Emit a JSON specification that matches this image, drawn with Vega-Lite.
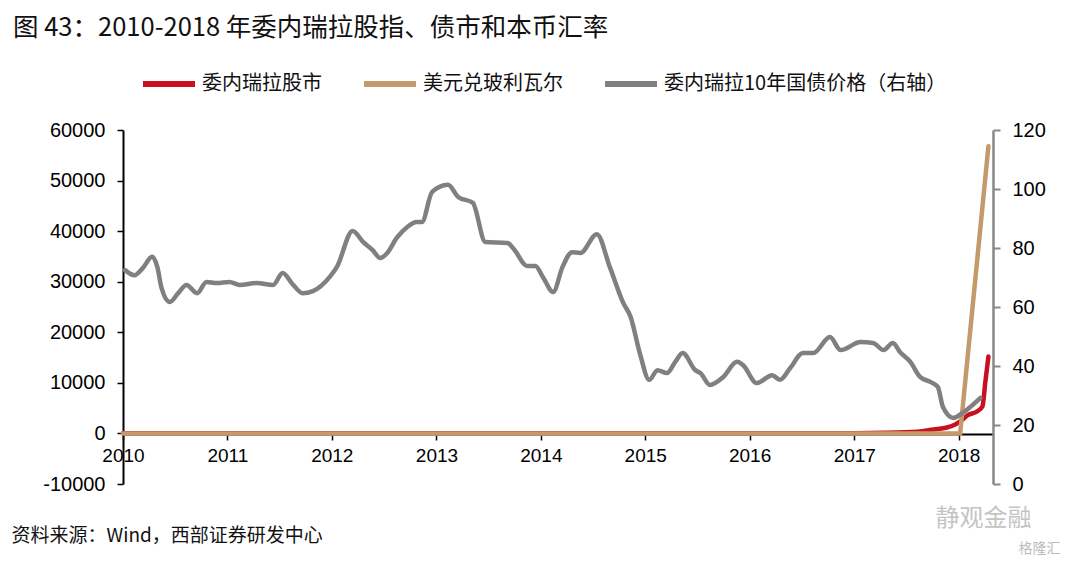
{
  "$schema": "https://vega.github.io/schema/vega-lite/v6.json",
  "autosize": {"type": "none"},
  "width": 870,
  "height": 354,
  "padding": {"left": 123, "top": 130, "right": 87, "bottom": 82},
  "background": "white",
  "title": {
    "text": "图 43：2010-2018 年委内瑞拉股指、债市和本币汇率",
    "anchor": "start",
    "frame": "group",
    "dx": -110,
    "fontSize": 25.5,
    "font": "Noto Sans CJK SC",
    "fontWeight": "normal",
    "color": "#111111",
    "offset": 14
  },
  "config": {
    "view": {"stroke": null},
    "font": "Liberation Sans",
    "axis": {"grid": false, "labelFont": "Liberation Sans", "labelColor": "#000000"}
  },
  "datasets": {
    "stock": [
      {"d": "2010-01-01", "s": "委内瑞拉股市", "v": 20},
      {"d": "2011-01-01", "s": "委内瑞拉股市", "v": 22},
      {"d": "2012-01-01", "s": "委内瑞拉股市", "v": 25},
      {"d": "2013-01-01", "s": "委内瑞拉股市", "v": 30},
      {"d": "2014-01-01", "s": "委内瑞拉股市", "v": 40},
      {"d": "2015-01-01", "s": "委内瑞拉股市", "v": 35},
      {"d": "2016-01-01", "s": "委内瑞拉股市", "v": 30},
      {"d": "2016-07-01", "s": "委内瑞拉股市", "v": 35},
      {"d": "2017-01-01", "s": "委内瑞拉股市", "v": 60},
      {"d": "2017-04-15", "s": "委内瑞拉股市", "v": 120},
      {"d": "2017-08-10", "s": "委内瑞拉股市", "v": 350},
      {"d": "2017-10-05", "s": "委内瑞拉股市", "v": 790},
      {"d": "2017-11-21", "s": "委内瑞拉股市", "v": 1180},
      {"d": "2017-12-20", "s": "委内瑞拉股市", "v": 1780},
      {"d": "2018-01-15", "s": "委内瑞拉股市", "v": 2760},
      {"d": "2018-01-31", "s": "委内瑞拉股市", "v": 3550},
      {"d": "2018-03-06", "s": "委内瑞拉股市", "v": 4340},
      {"d": "2018-03-25", "s": "委内瑞拉股市", "v": 5330},
      {"d": "2018-04-04", "s": "委内瑞拉股市", "v": 10070},
      {"d": "2018-04-15", "s": "委内瑞拉股市", "v": 15200}
    ],
    "fx": [
      {"d": "2010-01-01", "s": "美元兑玻利瓦尔", "v": 4.3},
      {"d": "2011-01-01", "s": "美元兑玻利瓦尔", "v": 4.3},
      {"d": "2013-02-10", "s": "美元兑玻利瓦尔", "v": 6.3},
      {"d": "2014-01-01", "s": "美元兑玻利瓦尔", "v": 6.3},
      {"d": "2015-01-01", "s": "美元兑玻利瓦尔", "v": 6.3},
      {"d": "2016-03-01", "s": "美元兑玻利瓦尔", "v": 10},
      {"d": "2017-01-01", "s": "美元兑玻利瓦尔", "v": 10},
      {"d": "2018-01-06", "s": "美元兑玻利瓦尔", "v": 10},
      {"d": "2018-04-15", "s": "美元兑玻利瓦尔", "v": 56800}
    ],
    "bond": [
      {"d": "2010-01-08", "s": "委内瑞拉10年国债价格（右轴）", "v": 72.5},
      {"d": "2010-02-10", "s": "委内瑞拉10年国债价格（右轴）", "v": 70.8},
      {"d": "2010-03-11", "s": "委内瑞拉10年国债价格（右轴）", "v": 73.2},
      {"d": "2010-04-13", "s": "委内瑞拉10年国债价格（右轴）", "v": 77.0},
      {"d": "2010-05-01", "s": "委内瑞拉10年国债价格（右轴）", "v": 73.6},
      {"d": "2010-05-16", "s": "委内瑞拉10年国债价格（右轴）", "v": 66.4},
      {"d": "2010-06-14", "s": "委内瑞拉10年国债价格（右轴）", "v": 61.7},
      {"d": "2010-07-13", "s": "委内瑞拉10年国债价格（右轴）", "v": 64.7},
      {"d": "2010-08-11", "s": "委内瑞拉10年国债价格（右轴）", "v": 67.5},
      {"d": "2010-09-17", "s": "委内瑞拉10年国债价格（右轴）", "v": 64.7},
      {"d": "2010-10-20", "s": "委内瑞拉10年国债价格（右轴）", "v": 68.5},
      {"d": "2010-11-25", "s": "委内瑞拉10年国债价格（右轴）", "v": 68.1},
      {"d": "2011-01-08", "s": "委内瑞拉10年国债价格（右轴）", "v": 68.5},
      {"d": "2011-02-13", "s": "委内瑞拉10年国债价格（右轴）", "v": 67.5},
      {"d": "2011-04-13", "s": "委内瑞拉10年国债价格（右轴）", "v": 68.1},
      {"d": "2011-06-10", "s": "委内瑞拉10年国债价格（右轴）", "v": 67.5},
      {"d": "2011-07-13", "s": "委内瑞拉10年国债价格（右轴）", "v": 71.5},
      {"d": "2011-08-19", "s": "委内瑞拉10年国债价格（右轴）", "v": 67.5},
      {"d": "2011-09-21", "s": "委内瑞拉10年国债价格（右轴）", "v": 64.7},
      {"d": "2011-10-27", "s": "委内瑞拉10年国债价格（右轴）", "v": 65.4},
      {"d": "2011-12-25", "s": "委内瑞拉10年国债价格（右轴）", "v": 70.2},
      {"d": "2012-01-19", "s": "委内瑞拉10年国债价格（右轴）", "v": 73.6},
      {"d": "2012-03-14", "s": "委内瑞拉10年国债价格（右轴）", "v": 85.8},
      {"d": "2012-04-20", "s": "委内瑞拉10年国债价格（右轴）", "v": 82.0},
      {"d": "2012-05-23", "s": "委内瑞拉10年国债价格（右轴）", "v": 79.3},
      {"d": "2012-06-18", "s": "委内瑞拉10年国债价格（右轴）", "v": 76.6},
      {"d": "2012-07-13", "s": "委内瑞拉10年国债价格（右轴）", "v": 78.3},
      {"d": "2012-08-15", "s": "委内瑞拉10年国债价格（右轴）", "v": 83.4},
      {"d": "2012-09-21", "s": "委内瑞拉10年国债价格（右轴）", "v": 87.1},
      {"d": "2012-10-24", "s": "委内瑞拉10年国债价格（右轴）", "v": 88.8},
      {"d": "2012-11-11", "s": "委内瑞拉10年国债价格（右轴）", "v": 88.8},
      {"d": "2012-12-17", "s": "委内瑞拉10年国债价格（右轴）", "v": 99.0},
      {"d": "2013-02-10", "s": "委内瑞拉10年国债价格（右轴）", "v": 101.4},
      {"d": "2013-03-18", "s": "委内瑞拉10年国债价格（右轴）", "v": 97.3},
      {"d": "2013-05-08", "s": "委内瑞拉10年国债价格（右轴）", "v": 95.3},
      {"d": "2013-06-21", "s": "委内瑞拉10年国债价格（右轴）", "v": 82.0},
      {"d": "2013-09-06", "s": "委内瑞拉10年国债价格（右轴）", "v": 81.7},
      {"d": "2013-10-01", "s": "委内瑞拉10年国债价格（右轴）", "v": 79.3},
      {"d": "2013-11-14", "s": "委内瑞拉10年国债价格（右轴）", "v": 73.9},
      {"d": "2013-12-13", "s": "委内瑞拉10年国债价格（右轴）", "v": 73.9},
      {"d": "2014-01-08", "s": "委内瑞拉10年国债价格（右轴）", "v": 70.2},
      {"d": "2014-02-13", "s": "委内瑞拉10年国债价格（右轴）", "v": 65.1},
      {"d": "2014-03-18", "s": "委内瑞拉10年国债价格（右轴）", "v": 73.6},
      {"d": "2014-04-20", "s": "委内瑞拉10年国债价格（右轴）", "v": 78.6},
      {"d": "2014-05-19", "s": "委内瑞拉10年国债价格（右轴）", "v": 78.3},
      {"d": "2014-07-16", "s": "委内瑞拉10年国债价格（右轴）", "v": 84.7},
      {"d": "2014-08-30", "s": "委内瑞拉10年国债价格（右轴）", "v": 73.6},
      {"d": "2014-10-16", "s": "委内瑞拉10年国债价格（右轴）", "v": 61.4},
      {"d": "2014-11-11", "s": "委内瑞拉10年国债价格（右轴）", "v": 56.6},
      {"d": "2014-12-13", "s": "委内瑞拉10年国债价格（右轴）", "v": 44.4},
      {"d": "2015-01-15", "s": "委内瑞拉10年国债价格（右轴）", "v": 35.3},
      {"d": "2015-02-13", "s": "委内瑞拉10年国债价格（右轴）", "v": 38.6},
      {"d": "2015-03-18", "s": "委内瑞拉10年国债价格（右轴）", "v": 37.6},
      {"d": "2015-04-16", "s": "委内瑞拉10年国债价格（右轴）", "v": 41.4},
      {"d": "2015-05-12", "s": "委内瑞拉10年国债价格（右轴）", "v": 44.4},
      {"d": "2015-06-25", "s": "委内瑞拉10年国债价格（右轴）", "v": 38.6},
      {"d": "2015-07-13", "s": "委内瑞拉10年国债价格（右轴）", "v": 37.6},
      {"d": "2015-08-15", "s": "委内瑞拉10年国债价格（右轴）", "v": 33.6},
      {"d": "2015-10-01", "s": "委内瑞拉10年国债价格（右轴）", "v": 36.3},
      {"d": "2015-11-18", "s": "委内瑞拉10年国债价格（右轴）", "v": 41.4},
      {"d": "2015-12-09", "s": "委内瑞拉10年国债价格（右轴）", "v": 40.3},
      {"d": "2016-01-26", "s": "委内瑞拉10年国债价格（右轴）", "v": 34.2},
      {"d": "2016-03-20", "s": "委内瑞拉10年国债价格（右轴）", "v": 36.9},
      {"d": "2016-04-16", "s": "委内瑞拉10年国债价格（右轴）", "v": 35.3},
      {"d": "2016-05-22", "s": "委内瑞拉10年国债价格（右轴）", "v": 39.3},
      {"d": "2016-07-05", "s": "委内瑞拉10年国债价格（右轴）", "v": 44.4},
      {"d": "2016-08-11", "s": "委内瑞拉10年国债价格（右轴）", "v": 44.4},
      {"d": "2016-10-08", "s": "委内瑞拉10年国债价格（右轴）", "v": 49.8},
      {"d": "2016-11-14", "s": "委内瑞拉10年国债价格（右轴）", "v": 45.4},
      {"d": "2017-01-23", "s": "委内瑞拉10年国债价格（右轴）", "v": 48.1},
      {"d": "2017-03-08", "s": "委内瑞拉10年国债价格（右轴）", "v": 47.8},
      {"d": "2017-04-13", "s": "委内瑞拉10年国债价格（右轴）", "v": 45.4},
      {"d": "2017-05-16", "s": "委内瑞拉10年国债价格（右轴）", "v": 47.8},
      {"d": "2017-06-10", "s": "委内瑞拉10年国债价格（右轴）", "v": 44.7},
      {"d": "2017-07-16", "s": "委内瑞拉10年国债价格（右轴）", "v": 41.4},
      {"d": "2017-08-19", "s": "委内瑞拉10年国债价格（右轴）", "v": 36.3},
      {"d": "2017-09-24", "s": "委内瑞拉10年国债价格（右轴）", "v": 34.6},
      {"d": "2017-10-20", "s": "委内瑞拉10年国债价格（右轴）", "v": 32.9},
      {"d": "2017-11-07", "s": "委内瑞拉10年国债价格（右轴）", "v": 26.1},
      {"d": "2017-12-13", "s": "委内瑞拉10年国债价格（右轴）", "v": 22.4},
      {"d": "2018-01-19", "s": "委内瑞拉10年国债价格（右轴）", "v": 24.4},
      {"d": "2018-03-18", "s": "委内瑞拉10年国债价格（右轴）", "v": 29.2}
    ]
  },
  "layer": [
    {
      "layer": [
        {
          "data": {"name": "stock"},
          "mark": {"type": "line", "strokeWidth": 4.5, "interpolate": "monotone", "strokeCap": "round"},
          "encoding": {
            "x": {
              "field": "d", "type": "temporal",
              "scale": {"domain": ["2010-01-01", "2018-05-01"]},
              "axis": {
                "offset": -50,
                "format": "%Y",
                "tickCount": {"interval": "year", "step": 1},
                "domainColor": "#000000", "domainWidth": 2,
                "tickColor": "#000000", "tickWidth": 1.5, "tickSize": 6,
                "labelFontSize": 19, "labelPadding": 6, "labelFlush": false,
                "title": "资料来源：Wind，西部证券研发中心",
                "titleFont": "Noto Sans CJK SC", "titleFontSize": 19, "titleFontWeight": "normal",
                "titleColor": "#111111",
                "titleAnchor": "start", "titleAlign": "left", "titleBaseline": "middle",
                "titleX": -112, "titleY": 101
              }
            },
            "y": {
              "field": "v", "type": "quantitative",
              "scale": {"domain": [-10000, 60000], "nice": false, "zero": false},
              "axis": {
                "values": [-10000, 0, 10000, 20000, 30000, 40000, 50000, 60000],
                "labelExpr": "'' + datum.value",
                "domainColor": "#000000", "domainWidth": 2,
                "tickColor": "#000000", "tickWidth": 1.5, "tickSize": 6,
                "labelFontSize": 20, "labelPadding": 12,
                "title": "格隆汇",
                "titleFont": "Noto Sans CJK SC", "titleFontSize": 14, "titleFontWeight": "normal",
                "titleColor": "#bbbbbb", "titleAngle": 0,
                "titleAlign": "left", "titleBaseline": "middle",
                "titleX": 895, "titleY": 418
              }
            },
            "color": {
              "field": "s", "type": "nominal",
              "scale": {
                "domain": ["委内瑞拉股市", "美元兑玻利瓦尔", "委内瑞拉10年国债价格（右轴）"],
                "range": ["#C8101E", "#C49A6C", "#808080"]
              },
              "legend": {
                "orient": "none", "legendX": 17, "legendY": -75,
                "direction": "horizontal", "title": null,
                "symbolType": "stroke", "symbolStrokeWidth": 6, "symbolSize": 2704,
                "labelFont": "Noto Sans CJK SC", "labelFontSize": 20, "labelColor": "#111111",
                "labelOffset": 4, "columnPadding": 30, "labelLimit": 400
              }
            }
          }
        },
        {
          "data": {"name": "fx"},
          "mark": {"type": "line", "strokeWidth": 4.5, "interpolate": "linear", "strokeCap": "round"},
          "encoding": {
            "x": {"field": "d", "type": "temporal"},
            "y": {"field": "v", "type": "quantitative"},
            "color": {"field": "s", "type": "nominal"}
          }
        }
      ]
    },
    {
      "data": {"name": "bond"},
      "mark": {"type": "line", "strokeWidth": 4.5, "interpolate": "monotone", "strokeCap": "round"},
      "encoding": {
        "x": {"field": "d", "type": "temporal"},
        "y": {
          "field": "v", "type": "quantitative",
          "scale": {"domain": [0, 120], "nice": false},
          "axis": {
            "orient": "right",
            "values": [0, 20, 40, 60, 80, 100, 120],
            "domainColor": "#888888", "domainWidth": 2.5,
            "tickColor": "#888888", "tickWidth": 2, "tickSize": 7,
            "labelFontSize": 20, "labelPadding": 12,
            "title": "静观金融",
            "titleFont": "Noto Sans CJK SC", "titleFontSize": 24, "titleFontWeight": "normal",
            "titleColor": "#c4c4c4", "titleAngle": 0,
            "titleAlign": "left", "titleBaseline": "middle",
            "titleX": -58, "titleY": 388
          }
        },
        "color": {"field": "s", "type": "nominal"}
      }
    }
  ],
  "resolve": {"scale": {"y": "independent"}}
}
